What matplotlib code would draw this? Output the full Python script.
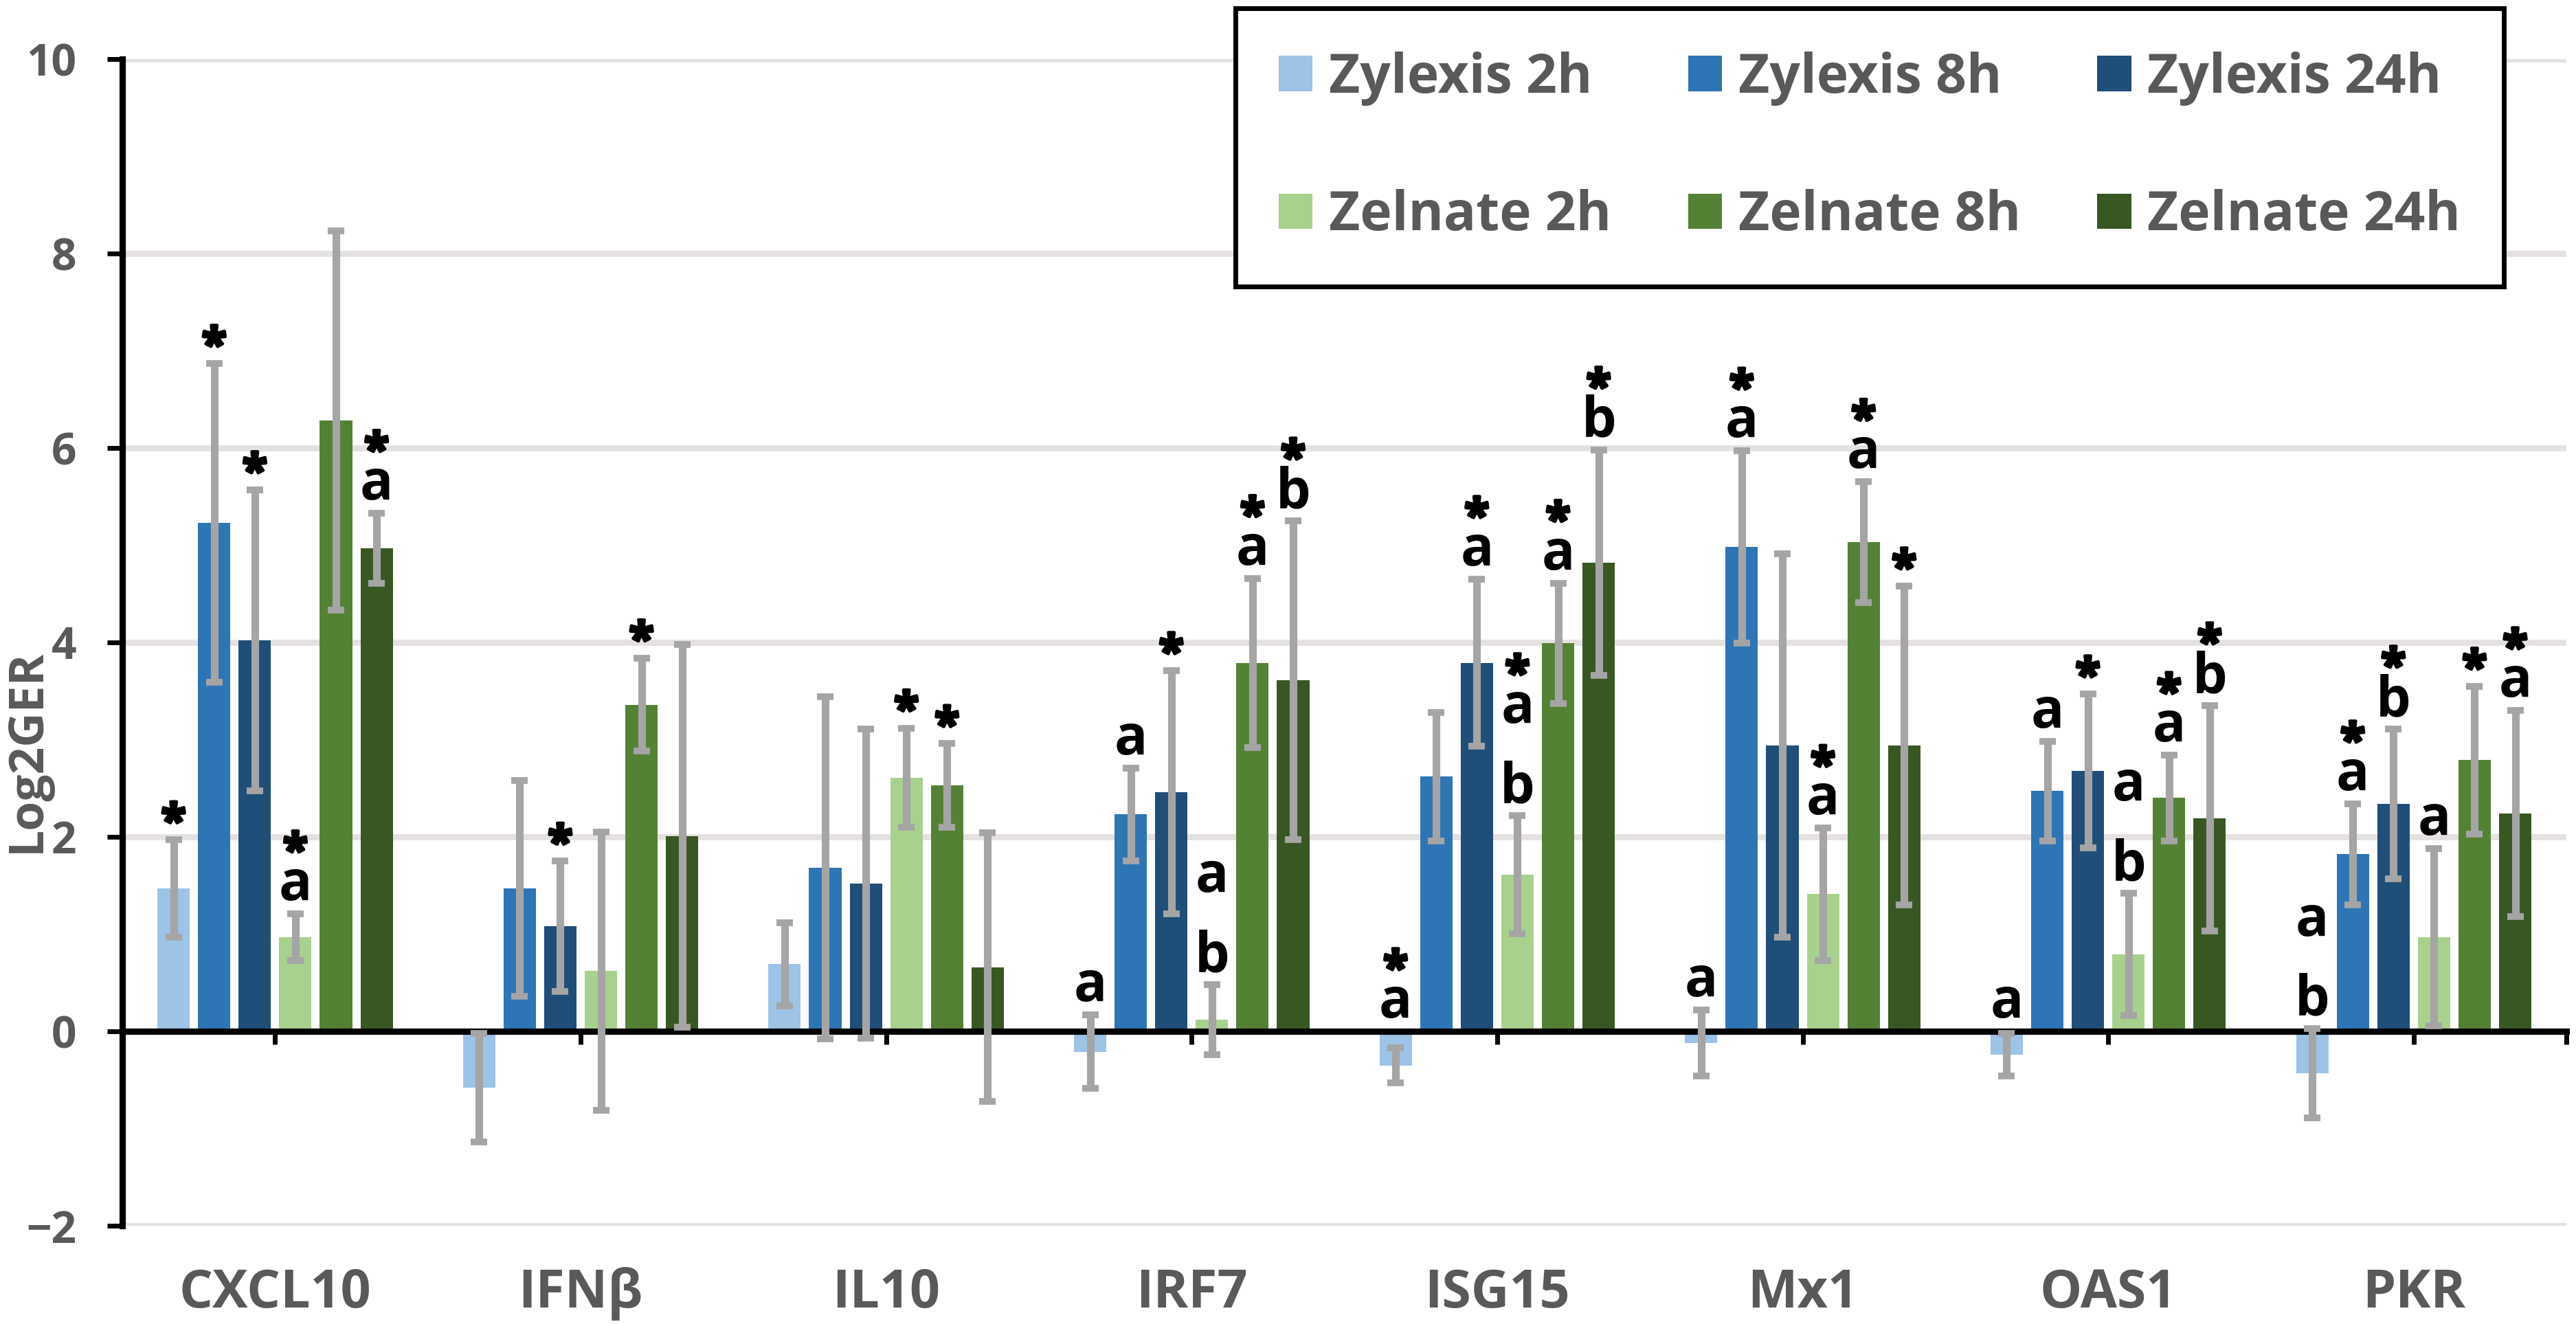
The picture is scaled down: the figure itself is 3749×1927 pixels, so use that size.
import numpy as np
import matplotlib
matplotlib.use("Agg")
import matplotlib.pyplot as plt
import matplotlib.patheffects as pe
from matplotlib.font_manager import FontProperties
from matplotlib.textpath import TextPath

FUENTE = ["Open Sans", "DejaVu Sans"]
plt.rcParams.update({"font.family": FUENTE, "font.weight": "bold"})
DPI = 200

GENES = ["CXCL10", "IFNβ", "IL10", "IRF7", "ISG15", "Mx1", "OAS1", "PKR"]
SERIES = ["Zylexis 2h", "Zylexis 8h", "Zylexis 24h",
          "Zelnate 2h", "Zelnate 8h", "Zelnate 24h"]
COLORES = ["#9dc3e6", "#2e75b6", "#1f4e79", "#a9d18e", "#548235", "#385723"]

# medias (Log2GER) por serie, en el orden de GENES
ZY_2H = [1.47, -0.58, 0.69, -0.21, -0.35, -0.12, -0.24, -0.43]
ZY_8H = [5.23, 1.47, 1.68, 2.23, 2.62, 4.98, 2.47, 1.82]
ZY_24H = [4.02, 1.08, 1.52, 2.46, 3.79, 2.94, 2.68, 2.34]
ZE_2H = [0.97, 0.62, 2.61, 0.12, 1.61, 1.41, 0.79, 0.97]
ZE_8H = [6.28, 3.36, 2.53, 3.79, 3.99, 5.03, 2.40, 2.79]
ZE_24H = [4.97, 2.01, 0.66, 3.61, 4.82, 2.94, 2.19, 2.24]

# barras de error
ZY_2H_ERR = [0.50, 0.56, 0.43, 0.38, 0.18, 0.34, 0.22, 0.46]
ZY_8H_ERR = [1.64, 1.11, 1.76, 0.48, 0.66, 0.99, 0.51, 0.52]
ZY_24H_ERR = [1.55, 0.67, 1.59, 1.25, 0.86, 1.97, 0.79, 0.77]
ZE_2H_ERR = [0.24, 1.43, 0.51, 0.36, 0.61, 0.68, 0.63, 0.91]
ZE_8H_ERR = [1.95, 0.48, 0.43, 0.87, 0.62, 0.62, 0.44, 0.76]
ZE_24H_ERR = [0.36, 1.97, 1.38, 1.64, 1.16, 1.64, 1.16, 1.06]

# letras / asteriscos sobre cada barra
ZY_2H_TXT = ["*", "", "", "a", "*\na", "a", "a", "a\nb"]
ZY_8H_TXT = ["*", "", "", "a", "", "*\na", "a", "*\na"]
ZY_24H_TXT = ["*", "*", "", "*", "*\na", "", "*", "*\nb"]
ZE_2H_TXT = ["*\na", "", "*", "a\nb", "*\na\nb", "*\na", "a\nb", "a"]
ZE_8H_TXT = ["", "*", "*", "*\na", "*\na", "*\na", "*\na", "*"]
ZE_24H_TXT = ["*\na", "", "", "*\nb", "*\nb", "*", "*\nb", "*\na"]

MEDIAS = [ZY_2H, ZY_8H, ZY_24H, ZE_2H, ZE_8H, ZE_24H]
ERRORES = [ZY_2H_ERR, ZY_8H_ERR, ZY_24H_ERR, ZE_2H_ERR, ZE_8H_ERR, ZE_24H_ERR]
TEXTOS = [ZY_2H_TXT, ZY_8H_TXT, ZY_24H_TXT, ZE_2H_TXT, ZE_8H_TXT, ZE_24H_TXT]

GRIS = "#595959"
PASO = 0.1329
ANCHO = 0.1059

fp = FontProperties(family="Open Sans", weight="bold")


def tam(texto, ancho_px, base=30):
    """Tamaño de letra para que el texto ocupe ~ancho_px píxeles de tinta."""
    e = TextPath((0, 0), texto, size=base, prop=fp).get_extents()
    return base * (ancho_px * 72 / DPI) / max(e.width, 1e-6)


FS_CAT = tam("CXCL10", 272)
FS_TICK = tam("10", 67)
FS_YLAB = tam("Log2GER", 290)
FS_LEG = tam("Zylexis 2h", 376)
FS_ANOT = tam("a", 39)
FS_AST = tam("*", 32)
ext = TextPath((0, 0), "*", size=FS_AST, prop=fp).get_extents()
AST_MID = (ext.y0 + ext.y1) / 2
GRUESO = [pe.withStroke(linewidth=1.6, foreground="black")]


def anotar(ax, x, tope, texto):
    """Apila letras y asteriscos (de abajo hacia arriba) sobre la barra de error."""
    prev = None
    for s in texto.split("\n")[::-1]:
        if s == "*":
            centro = 14.4 if prev is None else prev + 30.6
            dy, fs, efx = centro - AST_MID, FS_AST, GRUESO
        else:
            dy = 7.2 if prev is None else prev + 41.4
            prev, fs, efx = dy, FS_ANOT, None
        ax.annotate(s, xy=(x, tope), xytext=(0, dy), textcoords="offset points",
                    ha="center", va="baseline", fontsize=fs, color="black",
                    fontweight="bold", zorder=5, path_effects=efx)


fig = plt.figure(figsize=(3749 / DPI, 1927 / DPI), dpi=DPI)
ax = fig.add_axes([0.0475, 0.0742, 0.9488, 0.8812])

x = np.arange(len(GENES))
barras = []
for k, (nombre, med, err, txt) in enumerate(zip(SERIES, MEDIAS, ERRORES, TEXTOS)):
    pos = x + (k - 2.5) * PASO
    b = ax.bar(pos, med, width=ANCHO, color=COLORES[k], label=nombre, zorder=2)
    barras.append(b)
    ax.errorbar(pos, med, yerr=err, fmt="none", ecolor="#a5a5a5", elinewidth=4,
                capsize=4.2, capthick=3.5, zorder=3)
    for p, m, e, t in zip(pos, med, err, txt):
        if t:
            anotar(ax, p, max(m + e, 0), t)

ax.set_xlim(-0.5, 7.5)
ax.set_ylim(-2, 10)
ax.set_yticks(range(-2, 11, 2))
ax.yaxis.grid(True, color="#e5e1e1", linewidth=3.2)
ax.set_axisbelow(True)

for lado in ("top", "right"):
    ax.spines[lado].set_visible(False)
ax.spines["left"].set_linewidth(3.3)
ax.spines["bottom"].set_linewidth(3.3)
ax.spines["bottom"].set_position(("data", 0))

ax.set_xticks(list(range(8)) + [7.5])
ax.tick_params(axis="x", length=7, width=2.5, labelbottom=False, direction="out")
ax.tick_params(axis="y", length=8, width=2.5, pad=16, labelsize=FS_TICK,
               labelcolor=GRIS, direction="out")

for i, g in enumerate(GENES):
    ax.text(i, -0.0701, g, transform=ax.get_xaxis_transform(), ha="center",
            va="baseline", fontsize=FS_CAT, color=GRIS, fontweight="bold")

fig.text(0.0107, 0.4328, "Log2GER", rotation=90, ha="center", va="center",
         fontsize=FS_YLAB, color=GRIS, fontweight="bold")

orden = [0, 3, 1, 4, 2, 5]
leg = fig.legend([barras[i] for i in orden], [SERIES[i] for i in orden], ncol=3,
                 loc="upper left", bbox_to_anchor=(0.4796, 0.7686, 0.4924, 0.2252),
                 mode="expand", fontsize=FS_LEG, labelcolor=GRIS, frameon=True,
                 fancybox=False, framealpha=1, edgecolor="black", borderpad=0.8,
                 labelspacing=1.55, handlelength=0.63, handleheight=0.63,
                 handletextpad=0.3, borderaxespad=0)
leg.get_frame().set_linewidth(2.5)
for t in leg.get_texts():
    t.set_fontweight("bold")

fig.savefig("out.png", dpi=DPI)
